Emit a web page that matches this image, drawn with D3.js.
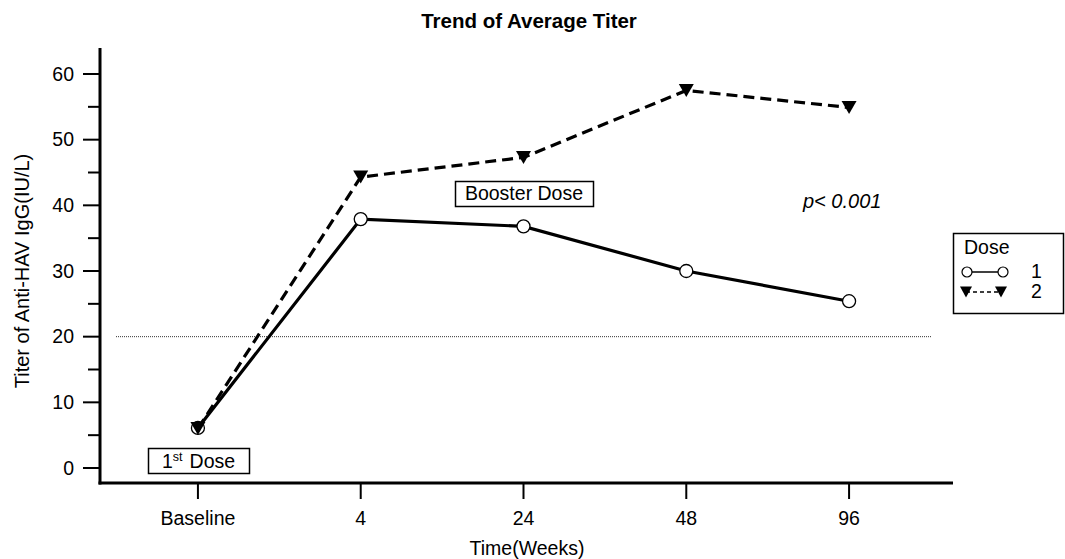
<!DOCTYPE html>
<html><head><meta charset="utf-8">
<script src="https://cdn.jsdelivr.net/npm/d3@7"></script>
<style>body{margin:0;background:#fff;} text{font-family:"Liberation Sans",Arial,sans-serif;}</style>
</head><body>
<svg id="c" width="1065" height="559"></svg>
<script>
const categories = ["Baseline", "4", "24", "48", "96"];
const dose1 = [6.1, 37.9, 36.8, 30.0, 25.4];
const dose2 = [6.0, 44.3, 47.3, 57.5, 54.9];
const yTicks = [0, 10, 20, 30, 40, 50, 60];
const refValue = 20;

const FS = "19.5px";
const svg = d3.select("#c");
const x = d3.scalePoint().domain(categories).range([97, 950]).padding(0.62);
const y = d3.scaleLinear().domain([0, 60]).range([468, 74]);
const yBottom = 483, yTop = 48;

// title
svg.append("text").attr("x", 529).attr("y", 28).attr("text-anchor", "middle")
  .style("font-size", "20.5px").style("font-weight", "bold").text("Trend of Average Titer");

// y axis
const ya = svg.append("g");
ya.append("line").attr("x1", 100).attr("x2", 100).attr("y1", yTop).attr("y2", yBottom + 1.5)
  .attr("stroke", "#000").attr("stroke-width", 3);
d3.range(0, 61, 5).forEach(v => {
  const major = v % 10 === 0;
  ya.append("line").attr("x1", major ? 83 : 88).attr("x2", 100).attr("y1", y(v)).attr("y2", y(v))
    .attr("stroke", "#000").attr("stroke-width", 2);
});
yTicks.forEach(v => {
  ya.append("text").attr("x", 74).attr("y", y(v)).attr("dy", "0.35em").attr("text-anchor", "end")
    .style("font-size", FS).text(v);
});
svg.append("text").attr("transform", "translate(29,271) rotate(-90)").attr("text-anchor", "middle")
  .style("font-size", "20px").text("Titer of Anti-HAV IgG(IU/L)");

// x axis
const xa = svg.append("g");
xa.append("line").attr("x1", 98.5).attr("x2", 953).attr("y1", yBottom).attr("y2", yBottom)
  .attr("stroke", "#000").attr("stroke-width", 3);
categories.forEach(c => {
  xa.append("line").attr("x1", x(c)).attr("x2", x(c)).attr("y1", yBottom).attr("y2", yBottom + 16)
    .attr("stroke", "#000").attr("stroke-width", 2);
  xa.append("text").attr("x", x(c)).attr("y", 525).attr("text-anchor", "middle")
    .style("font-size", FS).text(c);
});
svg.append("text").attr("x", 527).attr("y", 555).attr("text-anchor", "middle")
  .style("font-size", FS).text("Time(Weeks)");

// reference line
svg.append("line").attr("x1", 116).attr("x2", 931).attr("y1", y(refValue)).attr("y2", y(refValue))
  .attr("stroke", "#333").attr("stroke-width", 1).attr("stroke-dasharray", "1,1");

const line = d3.line().x((d, i) => x(categories[i])).y(d => y(d));
svg.append("path").datum(dose2).attr("d", line).attr("fill", "none").attr("stroke", "#000")
  .attr("stroke-width", 3.2).attr("stroke-dasharray", "11,6");
svg.append("path").datum(dose1).attr("d", line).attr("fill", "none").attr("stroke", "#000")
  .attr("stroke-width", 3.2);

const triPath = (w, h) => `M${-w/2},${-h/2}L${w/2},${-h/2}L0,${h/2}Z`;
svg.selectAll(".o").data(dose1).enter().append("circle")
  .attr("cx", (d, i) => x(categories[i])).attr("cy", d => y(d)).attr("r", 6.5)
  .attr("fill", "#fff").attr("stroke", "#000").attr("stroke-width", 1.3);
svg.selectAll(".t").data(dose2).enter().append("path")
  .attr("transform", (d, i) => `translate(${x(categories[i])},${y(d)})`)
  .attr("d", triPath(15, 13)).attr("fill", "#000");

// annotations
function box(x0, y0, w, h) {
  svg.append("rect").attr("x", x0).attr("y", y0).attr("width", w).attr("height", h)
    .attr("fill", "#fff").attr("stroke", "#000").attr("stroke-width", 1.5);
}
box(455.5, 181.5, 138, 25);
svg.append("text").attr("x", 524).attr("y", 200).attr("text-anchor", "middle")
  .style("font-size", FS).text("Booster Dose");
box(148.5, 448.5, 101, 25);
const t1 = svg.append("text").attr("x", 162).attr("y", 468).style("font-size", FS);
t1.append("tspan").text("1");
t1.append("tspan").attr("dy", -7).style("font-size", "12.5px").text("st");
t1.append("tspan").attr("dy", 7).attr("dx", 7).text("Dose");
svg.append("text").attr("x", 803).attr("y", 208).style("font-size", "20px")
  .style("font-style", "italic").text("p< 0.001");

// legend
box(953.5, 233.5, 110, 80);
svg.append("text").attr("x", 964).attr("y", 254).style("font-size", FS).text("Dose");
svg.append("line").attr("x1", 967).attr("x2", 1003).attr("y1", 272).attr("y2", 272)
  .attr("stroke", "#000").attr("stroke-width", 1.5);
[967, 1003].forEach(cx => svg.append("circle").attr("cx", cx).attr("cy", 272).attr("r", 5)
  .attr("fill", "#fff").attr("stroke", "#000").attr("stroke-width", 1.2));
svg.append("text").attr("x", 1031).attr("y", 278).style("font-size", FS).text("1");
svg.append("line").attr("x1", 966).attr("x2", 1002).attr("y1", 292).attr("y2", 292)
  .attr("stroke", "#000").attr("stroke-width", 1.5).attr("stroke-dasharray", "4,3");
[966, 1001].forEach(cx => svg.append("path").attr("transform", `translate(${cx},292)`)
  .attr("d", triPath(12, 11)).attr("fill", "#000"));
svg.append("text").attr("x", 1031).attr("y", 298).style("font-size", FS).text("2");
</script>
</body></html>
